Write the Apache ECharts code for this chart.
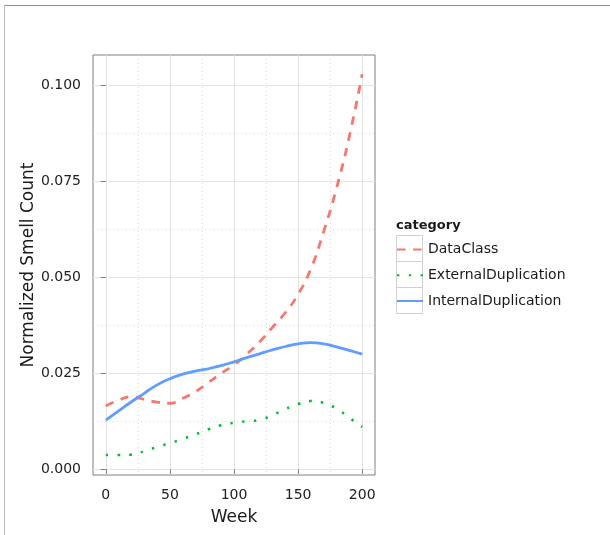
<!DOCTYPE html>
<html>
<head>
<meta charset="utf-8">
<script src="https://cdn.jsdelivr.net/npm/echarts@6/dist/echarts.min.js"></script>
<style>
  html, body { margin: 0; padding: 0; background: #ffffff; }
  #chart { width: 610px; height: 535px; }
</style>
</head>
<body>
<div id="chart"></div>
<script>
// Smoothed smell counts per week, normalized
const weeks = [0, 10, 20, 30, 40, 50, 60, 70, 80, 90, 100, 110, 120, 130, 140, 150, 160, 170, 180, 190, 200];
const dataClass = [0.0165, 0.0180, 0.0189, 0.0182, 0.0175, 0.0172, 0.0185, 0.0202, 0.0226, 0.0250, 0.0272, 0.0300, 0.0332, 0.0370, 0.0408, 0.0456, 0.0523, 0.0620, 0.0733, 0.0868, 0.1030];
const externalDuplication = [0.0037, 0.0037, 0.0038, 0.0047, 0.0058, 0.0068, 0.0079, 0.0091, 0.0104, 0.0115, 0.0121, 0.0125, 0.0129, 0.0141, 0.0157, 0.0170, 0.0178, 0.0173, 0.0158, 0.0134, 0.0110];
const internalDuplication = [0.0128, 0.0152, 0.0176, 0.0198, 0.0220, 0.0236, 0.0248, 0.0256, 0.0262, 0.0270, 0.0280, 0.0291, 0.0301, 0.0311, 0.0320, 0.0327, 0.0330, 0.0327, 0.0319, 0.0310, 0.0300];

const categories = ['DataClass', 'ExternalDuplication', 'InternalDuplication'];
const xTicks = [0, 50, 100, 150, 200];
const xMinorTicks = [25, 75, 125, 175];
const yTicks = [0, 0.025, 0.05, 0.075, 0.1];
const yMinorTicks = [0.0125, 0.0375, 0.0625, 0.0875];

const FONT = 'DejaVu Sans';
const X_MIN = -10, X_MAX = 210;
const Y_MIN = -0.0015, Y_MAX = 0.108;

const pairs = vals => weeks.map((w, i) => [w, vals[i]]);

const chart = echarts.init(document.getElementById('chart'), null, { renderer: 'canvas' });

const GRID = { left: 93, top: 55, width: 282, height: 420 };
const KEY_TOP = 235, KEY_LEFT = 396, KEY_SIZE = 26;

chart.setOption({
  animation: false,
  backgroundColor: '#ffffff',
  title: {
    text: 'category',
    left: KEY_LEFT,
    top: 219,
    padding: 0,
    textStyle: { fontFamily: FONT, fontSize: 13, fontWeight: 'bold', color: '#1a1a1a' }
  },
  grid: {
    left: GRID.left, top: GRID.top, width: GRID.width, height: GRID.height,
    show: true, borderColor: '#7f7f7f', borderWidth: 1, backgroundColor: 'transparent'
  },
  legend: {
    orient: 'vertical',
    left: KEY_LEFT,
    top: KEY_TOP + 4,
    padding: 0,
    itemGap: 5,
    itemWidth: KEY_SIZE,
    itemHeight: KEY_SIZE,
    selectedMode: false,
    data: categories,
    // keys show only the line style of each series
    itemStyle: { opacity: 0, borderWidth: 0 },
    textStyle: { fontFamily: FONT, fontSize: 14, color: '#1a1a1a' }
  },
  graphic: [
    // outer frame edges
    { type: 'line', shape: { x1: 4, y1: 5.5, x2: 610, y2: 5.5 }, style: { stroke: '#8a8a8a', lineWidth: 1 }, silent: true },
    { type: 'line', shape: { x1: 4.5, y1: 5, x2: 4.5, y2: 535 }, style: { stroke: '#bdbdbd', lineWidth: 1 }, silent: true },
    // legend key boxes
    ...categories.map((c, i) => ({
      type: 'rect', z: 1, silent: true,
      shape: { x: KEY_LEFT + 0.5, y: KEY_TOP + i * KEY_SIZE + 0.5, width: KEY_SIZE, height: KEY_SIZE },
      style: { fill: '#ffffff', stroke: '#d0d0d0', lineWidth: 1 }
    }))
  ],
  xAxis: [
    {
      type: 'value', gridIndex: 0, min: X_MIN, max: X_MAX,
      name: 'Week', nameLocation: 'middle', nameGap: 34,
      nameTextStyle: { fontFamily: FONT, fontSize: 17, color: '#1a1a1a' },
      axisLine: { show: false },
      axisTick: { show: true, length: 5, customValues: xTicks, lineStyle: { color: '#7f7f7f' } },
      axisLabel: { customValues: xTicks, margin: 13, fontFamily: FONT, fontSize: 14, color: '#222222' },
      splitLine: { show: true, lineStyle: { color: '#e3e3e3', width: 1 } }
    },
    {
      type: 'value', gridIndex: 0, min: X_MIN, max: X_MAX,
      axisLine: { show: false },
      axisTick: { show: false, customValues: xMinorTicks },
      axisLabel: { show: false, customValues: xMinorTicks },
      splitLine: { show: true, lineStyle: { color: '#d6d6d6', width: 1, type: [1, 3] } }
    }
  ],
  yAxis: [
    {
      type: 'value', gridIndex: 0, min: Y_MIN, max: Y_MAX,
      name: 'Normalized Smell Count', nameLocation: 'middle', nameGap: 51,
      nameTextStyle: { fontFamily: FONT, fontSize: 17, color: '#1a1a1a' },
      axisLine: { show: false },
      axisTick: { show: true, length: 5, customValues: yTicks, lineStyle: { color: '#7f7f7f' } },
      axisLabel: {
        customValues: yTicks, margin: 12, fontFamily: FONT, fontSize: 14, color: '#222222',
        formatter: v => v.toFixed(3)
      },
      splitLine: { show: true, lineStyle: { color: '#e3e3e3', width: 1 } }
    },
    {
      type: 'value', gridIndex: 0, min: Y_MIN, max: Y_MAX,
      axisLine: { show: false },
      axisTick: { show: false, customValues: yMinorTicks },
      axisLabel: { show: false, customValues: yMinorTicks },
      splitLine: { show: true, lineStyle: { color: '#d6d6d6', width: 1, type: [1, 3] } }
    }
  ],
  series: [
    {
      name: 'DataClass', type: 'line', xAxisIndex: 0, yAxisIndex: 0,
      data: pairs(dataClass), smooth: true, symbol: 'none', z: 3,
      lineStyle: { color: '#F8766D', width: 2.8, type: [8.5, 7.5], cap: 'butt' },
      itemStyle: { color: '#F8766D' }
    },
    {
      name: 'ExternalDuplication', type: 'line', xAxisIndex: 0, yAxisIndex: 0,
      data: pairs(externalDuplication), smooth: true, symbol: 'none', z: 3,
      lineStyle: { color: '#00BA38', width: 2.6, type: [2.4, 9.4], cap: 'butt' },
      itemStyle: { color: '#00BA38' }
    },
    {
      name: 'InternalDuplication', type: 'line', xAxisIndex: 0, yAxisIndex: 0,
      data: pairs(internalDuplication), smooth: true, symbol: 'none', z: 3,
      lineStyle: { color: '#619CFF', width: 2.8, type: 'solid' },
      itemStyle: { color: '#619CFF' }
    }
  ]
});
</script>
</body>
</html>
